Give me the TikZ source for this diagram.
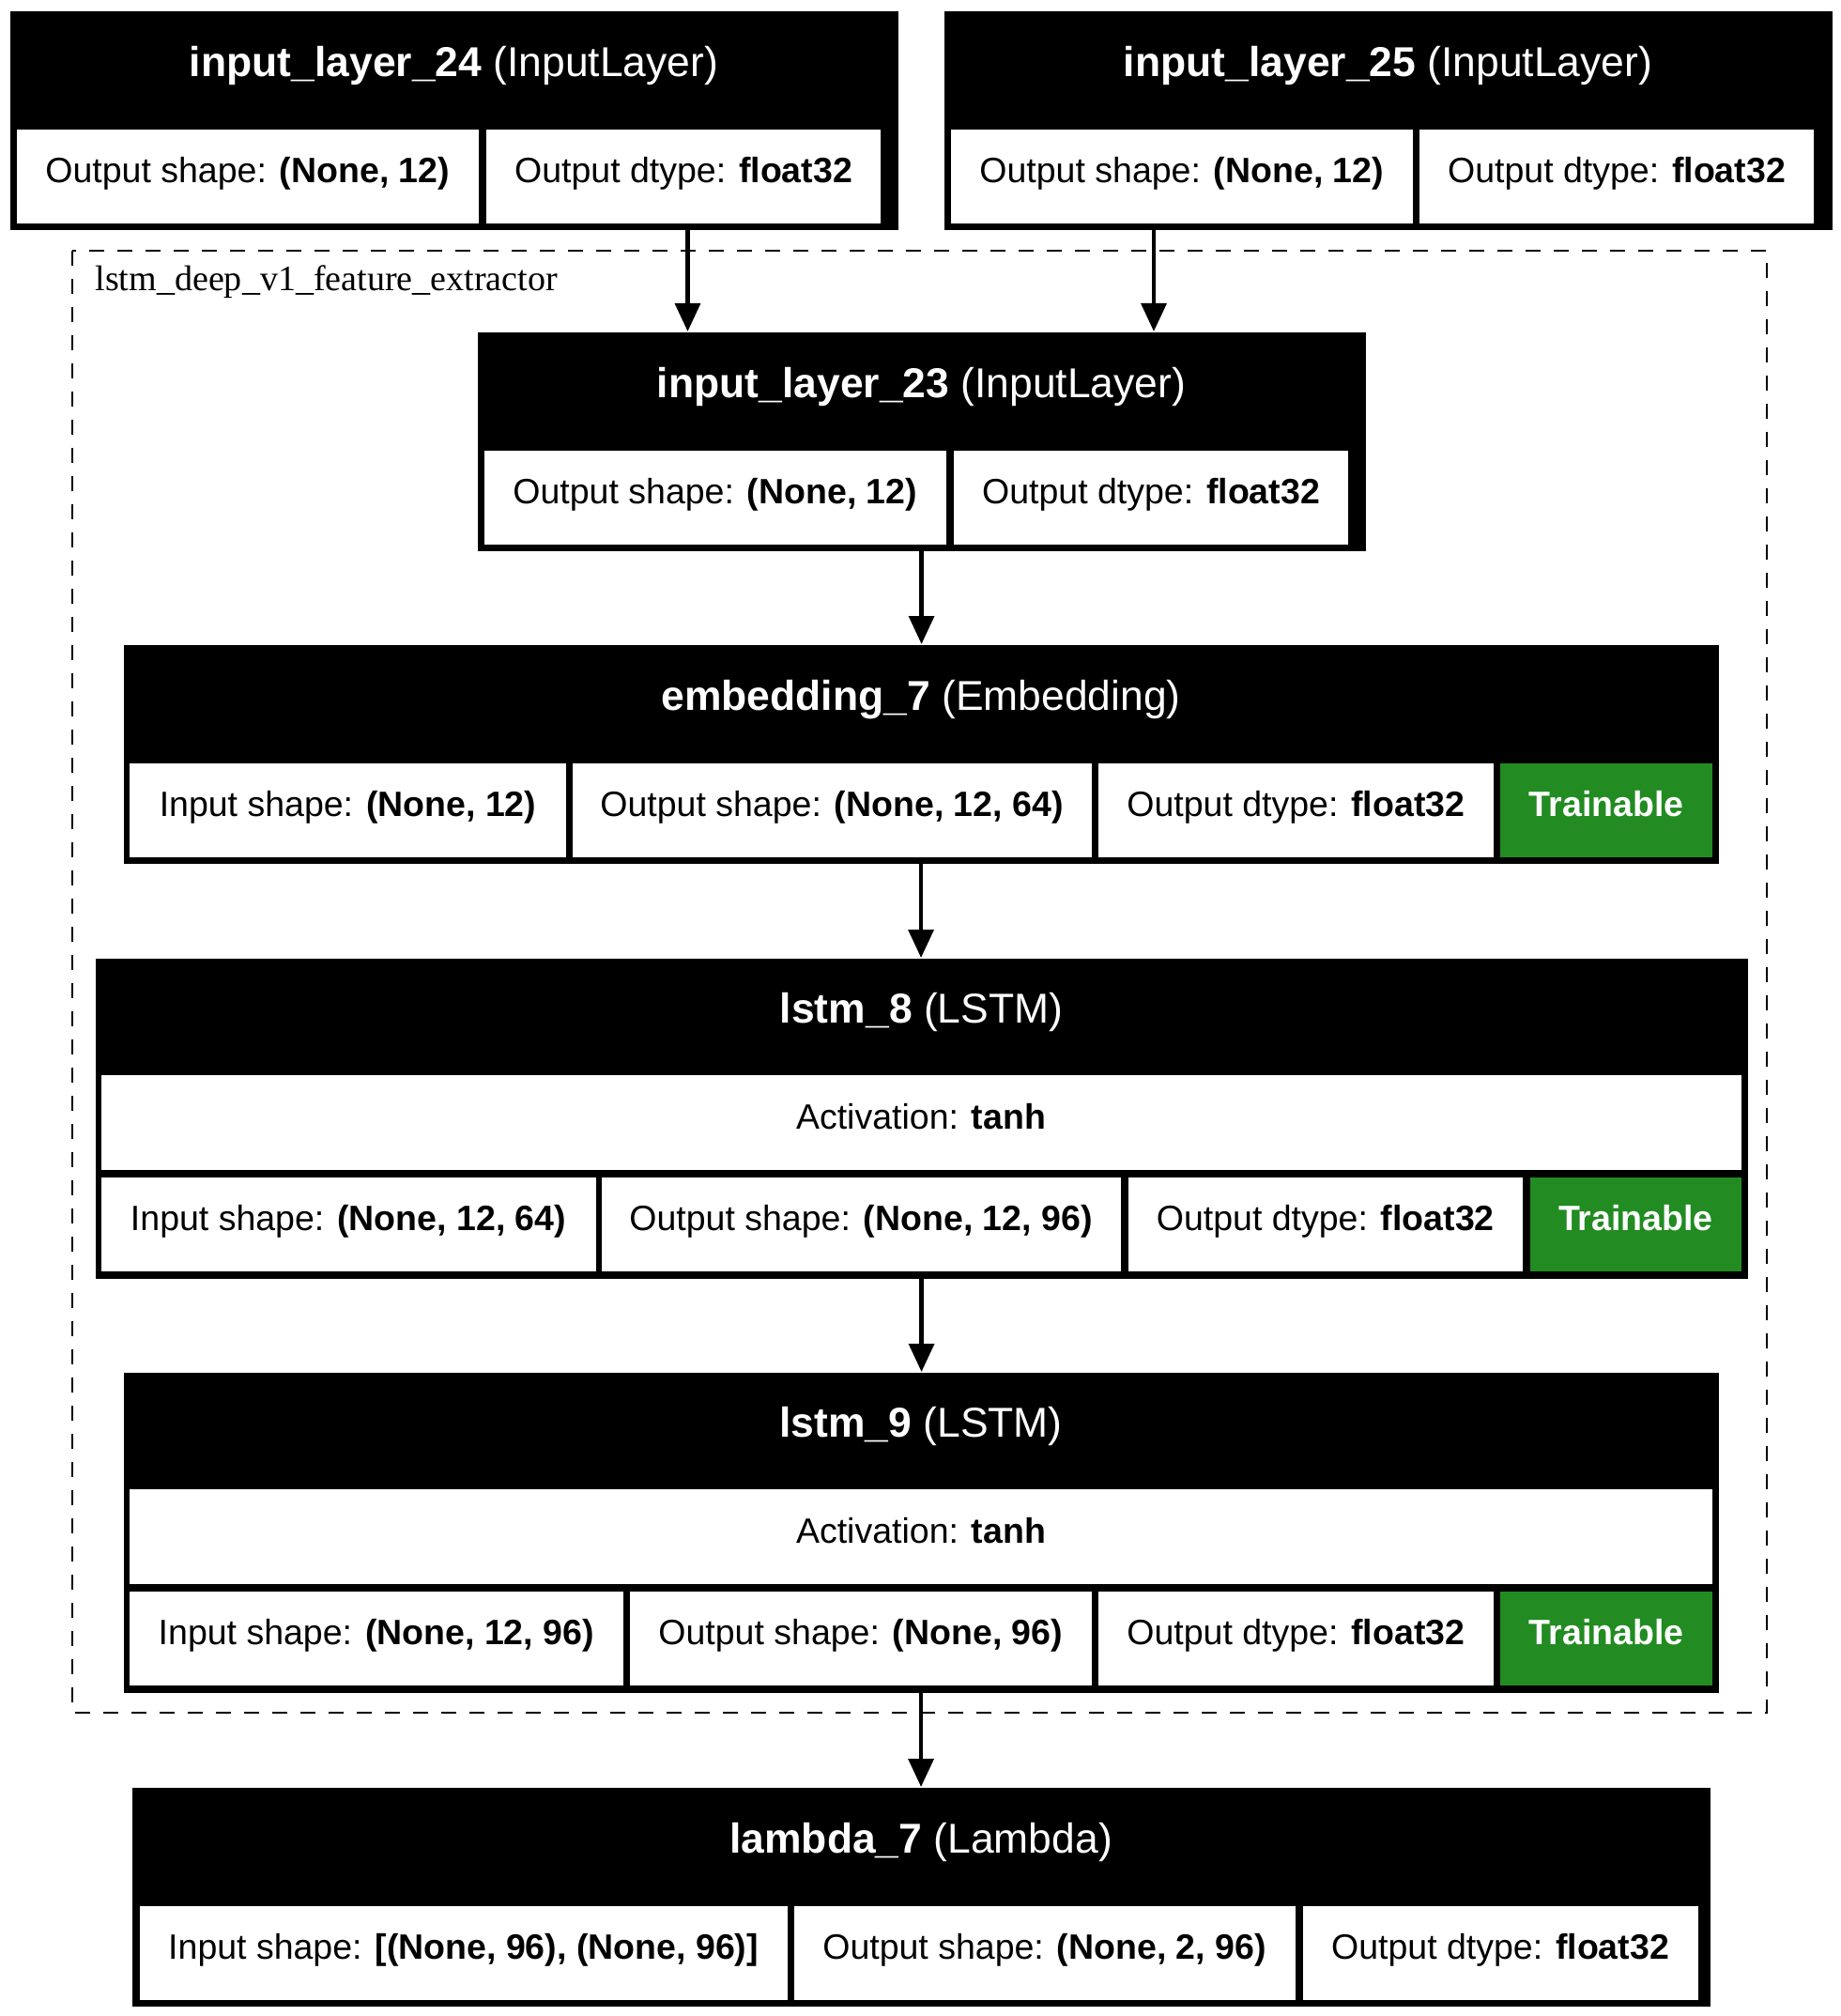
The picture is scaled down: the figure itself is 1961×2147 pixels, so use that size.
\documentclass[tikz,border=0pt]{standalone}
\usepackage{fontspec}
\setmainfont{Liberation Sans}
\newfontfamily\clfont{Liberation Serif}
\usetikzlibrary{arrows.meta}
\definecolor{trainc}{HTML}{228B22}

\begin{document}
\begin{tikzpicture}[x=0.36pt,y=-0.36pt,
            wh/.style 2 args={minimum width=#1*0.36pt,minimum height=#2*0.36pt},
            layer/.style={fill=black,inner sep=0pt,anchor=north west},
            head/.style={inner sep=0pt,anchor=north west,text=white,font=\fontsize{16}{19}\selectfont,text height=0.75em,text depth=0.25em},
            cell/.style={fill=white,inner sep=0pt,anchor=north west,font=\fontsize{13.5}{16}\selectfont,text height=0.75em,text depth=0.25em},
            train/.style={cell,fill=trainc,text=white},
            arr/.style={line width=1.6pt,-{Triangle[length=10.8pt,width=9.6pt]}},
            clus/.style={line width=0.9pt,dash pattern=on 5.6pt off 5.2pt}
        ]
            \useasboundingbox (0,0) rectangle (1961,2147);

            \draw[clus] (77,267) rectangle (1882,1824);
            \node[anchor=base west,inner sep=0pt,font=\clfont\fontsize{13.7}{16}\selectfont] (clab) at (101,310) {lstm\_deep\_v1\_feature\_extractor};

            \node[layer,wh={946}{233}] (in24) at (10,11) {};
            \node[head,wh={946}{126}] (in24t) at (10,11) {\textbf{input\_layer\_24} (InputLayer)};
            \node[cell,wh={491.5}{100}] (in24a) at (17.5,137) {Output shape: \textbf{(None, 12)}};
            \node[cell,wh={420}{100}] (in24b) at (517.5,137) {Output dtype: \textbf{float32}};

            \node[layer,wh={946}{233}] (in25) at (1005,11) {};
            \node[head,wh={946}{126}] (in25t) at (1005,11) {\textbf{input\_layer\_25} (InputLayer)};
            \node[cell,wh={491.5}{100}] (in25a) at (1012.5,137) {Output shape: \textbf{(None, 12)}};
            \node[cell,wh={420}{100}] (in25b) at (1511.5,137) {Output dtype: \textbf{float32}};

            \node[layer,wh={946}{233}] (in23) at (508,353) {};
            \node[head,wh={946}{126}] (in23t) at (508,353) {\textbf{input\_layer\_23} (InputLayer)};
            \node[cell,wh={491.5}{100}] (in23a) at (515.5,479) {Output shape: \textbf{(None, 12)}};
            \node[cell,wh={420}{100}] (in23b) at (1015.5,479) {Output dtype: \textbf{float32}};

            \node[layer,wh={1699}{233}] (emb) at (131,686) {};
            \node[head,wh={1699}{126}] (embt) at (131,686) {\textbf{embedding\_7} (Embedding)};
            \node[cell,wh={465}{100}] (emba) at (137.5,812) {Input shape: \textbf{(None, 12)}};
            \node[cell,wh={553}{100}] (embb) at (609,812) {Output shape: \textbf{(None, 12, 64)}};
            \node[cell,wh={421.5}{100}] (embc) at (1169,812) {Output dtype: \textbf{float32}};
            \node[train,wh={226}{100}] (embd) at (1597.5,812) {\textbf{Trainable}};

            \node[layer,wh={1760}{341}] (l8) at (101,1020) {};
            \node[head,wh={1760}{124}] (l8t) at (101,1020) {\textbf{lstm\_8} (LSTM)};
            \node[cell,wh={1747}{101}] (l8act) at (107,1144) {Activation: \textbf{tanh}};
            \node[cell,wh={527}{100}] (l8a) at (107,1253) {Input shape: \textbf{(None, 12, 64)}};
            \node[cell,wh={553}{100}] (l8b) at (640,1253) {Output shape: \textbf{(None, 12, 96)}};
            \node[cell,wh={420.5}{100}] (l8c) at (1201,1253) {Output dtype: \textbf{float32}};
            \node[train,wh={224.5}{100}] (l8d) at (1629.5,1253) {\textbf{Trainable}};

            \node[layer,wh={1699}{341}] (l9) at (131,1461) {};
            \node[head,wh={1699}{124}] (l9t) at (131,1461) {\textbf{lstm\_9} (LSTM)};
            \node[cell,wh={1686}{101}] (l9act) at (137.5,1585) {Activation: \textbf{tanh}};
            \node[cell,wh={525.5}{100}] (l9a) at (137.5,1694) {Input shape: \textbf{(None, 12, 96)}};
            \node[cell,wh={492.5}{100}] (l9b) at (670,1694) {Output shape: \textbf{(None, 96)}};
            \node[cell,wh={421.5}{100}] (l9c) at (1169,1694) {Output dtype: \textbf{float32}};
            \node[train,wh={226}{100}] (l9d) at (1597.5,1694) {\textbf{Trainable}};

            \node[layer,wh={1681}{233}] (lam) at (140,1903) {};
            \node[head,wh={1681}{126}] (lamt) at (140,1903) {\textbf{lambda\_7} (Lambda)};
            \node[cell,wh={690}{100}] (lama) at (148,2029) {Input shape: \textbf{[(None, 96), (None, 96)]}};
            \node[cell,wh={534}{100}] (lamb) at (845,2029) {Output shape: \textbf{(None, 2, 96)}};
            \node[cell,wh={421}{100}] (lamc) at (1387,2029) {Output dtype: \textbf{float32}};

            \coordinate (c24) at (732.5,0);
            \coordinate (c25) at (1229,0);
            \draw[arr] (in24.south -| c24) -- (in23.north -| c24);
            \draw[arr] (in25.south -| c25) -- (in23.north -| c25);
            \draw[arr] (in23.south) -- (in23.south |- emb.north);
            \draw[arr] (emb.south) -- (emb.south |- l8.north);
            \draw[arr] (l8.south) -- (l8.south |- l9.north);
            \draw[arr] (l9.south) -- (l9.south |- lam.north);
\end{tikzpicture}
\end{document}
